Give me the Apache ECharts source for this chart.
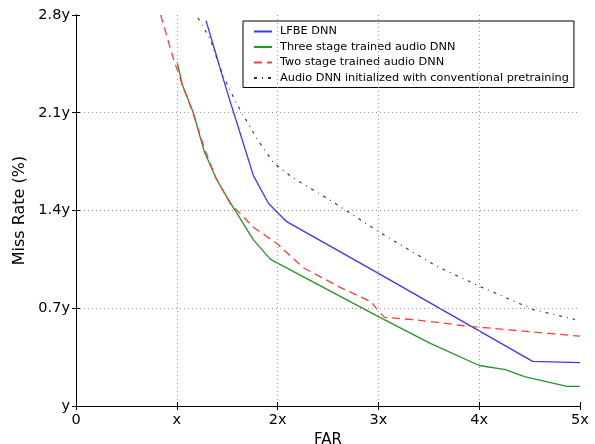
<!DOCTYPE html>
<html>
<head>
<meta charset="utf-8">
<script src="https://cdn.jsdelivr.net/npm/echarts@6/dist/echarts.min.js"></script>
<style>
  html, body { margin: 0; padding: 0; background: #fff; }
  #chart { width: 595px; height: 444px; }
</style>
</head>
<body>
<div id="chart"></div>
<script>
// Tick labels
const xTickLabels = ['0', 'x', '2x', '3x', '4x', '5x'];
const yTickLabels = ['y', '0.7y', '1.4y', '2.1y', '2.8y'];

// LFBE DNN
const lfbeX = [1.29, 1.38, 1.445, 1.53, 1.63, 1.76, 1.91, 2.09, 3.0, 4.53, 5.0];
const lfbeY = [2.76, 2.54, 2.38, 2.18, 1.95, 1.65, 1.45, 1.32, 0.95, 0.32, 0.31];

// Three stage trained audio DNN
const threeX = [1.005, 1.055, 1.164, 1.273, 1.396, 1.51, 1.76, 1.93, 3.0, 3.51, 4.0, 4.26, 4.45, 4.87, 5.0];
const threeY = [2.46, 2.30, 2.10, 1.82, 1.62, 1.48, 1.19, 1.05, 0.64, 0.45, 0.29, 0.26, 0.21, 0.14, 0.14];

// Two stage trained audio DNN
const twoX = [0.84, 0.965, 1.065, 1.16, 1.28, 1.39, 1.53, 1.76, 1.99, 2.255, 2.62, 2.93, 3.0, 3.06, 3.38, 3.91, 5.0];
const twoY = [2.80, 2.49, 2.28, 2.10, 1.83, 1.63, 1.45, 1.28, 1.165, 0.99, 0.85, 0.745, 0.68, 0.635, 0.616, 0.57, 0.50];

// Audio DNN initialized with conventional pretraining
const convX = [1.21, 1.33, 1.43, 1.495, 1.59, 1.79, 1.96, 2.16, 2.52, 3.02, 3.58, 4.01, 4.54, 4.95];
const convY = [2.78, 2.63, 2.42, 2.31, 2.17, 1.92, 1.74, 1.63, 1.475, 1.24, 1.00, 0.855, 0.69, 0.62];

const seriesNames = [
  'LFBE DNN',
  'Three stage trained audio DNN',
  'Two stage trained audio DNN',
  'Audio DNN initialized with conventional pretraining'
];

function pairs(xs, ys) { return xs.map((x, i) => [x, ys[i]]); }

const FONT = 'DejaVu Sans';
const xStep = 1, yStep = 0.7;

const chart = echarts.init(document.getElementById('chart'), null, { renderer: 'canvas' });

// Frame lines on the top and right sides, with inward ticks and no labels
const mirrorAxis = {
  axisLine: { show: true, lineStyle: { color: '#000', width: 1 } },
  axisTick: { show: true, inside: true, length: 4, lineStyle: { color: '#000' } },
  axisLabel: { show: false },
  splitLine: { show: false },
  z: 10
};

const gridLine = { show: true, showMinLine: false, showMaxLine: false, lineStyle: { color: '#999', type: [1, 3], width: 1 } };

chart.setOption({
  animation: false,
  backgroundColor: '#fff',
  textStyle: { fontFamily: FONT },
  grid: { left: 76, right: 15, top: 15, bottom: 38, outerBoundsMode: 'none', containLabel: false },
  legend: {
    data: seriesNames,
    orient: 'vertical',
    left: 243,
    top: 21,
    padding: [5, 5, 4, 10],
    itemWidth: 18,
    itemHeight: 11,
    itemGap: 4.5,
    borderColor: '#000',
    borderWidth: 1,
    borderRadius: 0,
    backgroundColor: '#fff',
    itemStyle: { opacity: 0 },
    textStyle: { fontFamily: FONT, fontSize: 11.3, color: '#000', padding: [0, 0, 0, 3] }
  },
  xAxis: [{
    type: 'value',
    min: 0, max: 5, interval: xStep,
    name: 'FAR',
    nameLocation: 'middle',
    nameGap: 26,
    nameTextStyle: { fontFamily: FONT, fontSize: 15, color: '#000' },
    axisLine: { show: true, onZero: false, lineStyle: { color: '#000', width: 1 } },
    axisTick: { show: true, inside: true, length: 4, lineStyle: { color: '#000' } },
    axisLabel: {
      fontFamily: FONT, fontSize: 14.5, color: '#000', margin: 7,
      formatter: v => xTickLabels[Math.round(v / xStep)]
    },
    splitLine: gridLine,
    z: 10
  }, Object.assign({ type: 'value', position: 'top', min: 0, max: 5, interval: xStep }, mirrorAxis)],
  yAxis: [{
    type: 'value',
    min: 0, max: 2.8, interval: yStep,
    name: 'Miss Rate (%)',
    nameLocation: 'middle',
    nameRotate: 90,
    nameGap: 40,
    nameTextStyle: { fontFamily: FONT, fontSize: 16, color: '#000' },
    axisLine: { show: true, onZero: false, lineStyle: { color: '#000', width: 1 } },
    axisTick: { show: true, inside: true, length: 4, lineStyle: { color: '#000' } },
    axisLabel: {
      fontFamily: FONT, fontSize: 14.5, color: '#000', margin: 6,
      formatter: v => yTickLabels[Math.round(v / yStep)]
    },
    splitLine: gridLine,
    z: 10
  }, Object.assign({ type: 'value', position: 'right', min: 0, max: 2.8, interval: yStep }, mirrorAxis)],
  series: [
    {
      name: seriesNames[0], type: 'line', symbol: 'none', clip: true,
      data: pairs(lfbeX, lfbeY),
      lineStyle: { color: '#3838ff', width: 1.3 },
      itemStyle: { color: '#3838ff' }
    },
    {
      name: seriesNames[1], type: 'line', symbol: 'none', clip: true,
      data: pairs(threeX, threeY),
      lineStyle: { color: '#259525', width: 1.3 },
      itemStyle: { color: '#259525' }
    },
    {
      name: seriesNames[2], type: 'line', symbol: 'none', clip: true,
      data: pairs(twoX, twoY),
      lineStyle: { color: '#ff3c3c', width: 1.3, type: [8, 5] },
      itemStyle: { color: '#ff3c3c' }
    },
    {
      name: seriesNames[3], type: 'line', symbol: 'none', clip: true,
      data: pairs(convX, convY),
      lineStyle: { color: '#333', width: 1.1, type: [3, 5, 1, 5] },
      itemStyle: { color: '#333' }
    }
  ]
});
</script>
</body>
</html>
